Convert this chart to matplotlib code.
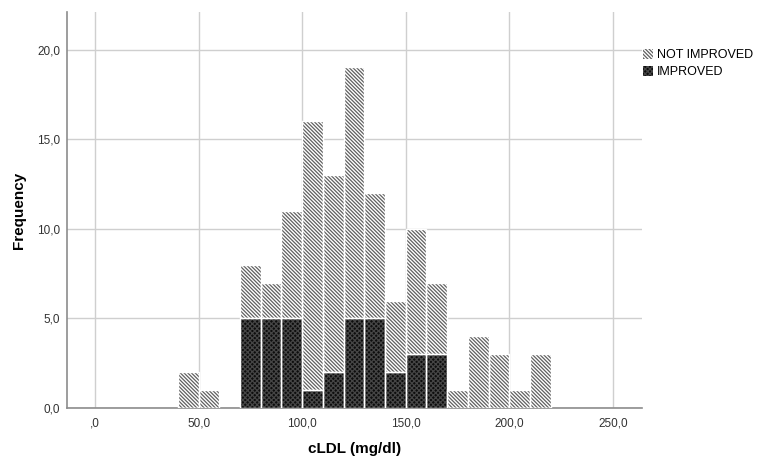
import numpy as np
import matplotlib.pyplot as plt
from matplotlib.patches import Patch

plt.rcParams['font.family'] = ['Liberation Sans', 'DejaVu Sans']
plt.rcParams['hatch.linewidth'] = 0.9

# histogram bins (left edges, width 10 mg/dl)
bin_left = [40, 50, 70, 80, 90, 100, 110, 120, 130, 140, 150, 160, 170, 180, 190, 200, 210]
total = [2, 1, 8, 7, 11, 16, 13, 19, 12, 6, 10, 7, 1, 4, 3, 1, 3]
improved = [0, 0, 5, 5, 5, 1, 2, 5, 5, 2, 3, 3, 0, 0, 0, 0, 0]
not_improved = [t - i for t, i in zip(total, improved)]

x_ticks = [0, 50, 100, 150, 200, 250]
x_ticklabels = [',0', '50,0', '100,0', '150,0', '200,0', '250,0']
y_ticks = [0, 5, 10, 15, 20]
y_ticklabels = ['0,0', '5,0', '10,0', '15,0', '20,0']

fig = plt.figure(figsize=(7.61, 4.59), dpi=100)
ax = fig.add_axes([0.088, 0.111, 0.7556, 0.863])

w = 10
imp_col = '#0d0d0d'
imp_hatch = '#454545'
stripe = '\\' * 9
# improved (bottom)
ax.bar(bin_left, improved, width=w, align='edge', color=imp_col,
       hatch='xxxxxxx', edgecolor=imp_hatch, linewidth=0, zorder=3)
ax.bar(bin_left, improved, width=w, align='edge', fill=False,
       edgecolor='white', linewidth=1, zorder=4)
# not improved (stacked)
ax.bar(bin_left, not_improved, bottom=improved, width=w, align='edge', color='white',
       hatch=stripe, edgecolor='#606060', linewidth=0, zorder=3)
ax.bar(bin_left, not_improved, bottom=improved, width=w, align='edge', fill=False,
       edgecolor='white', linewidth=1, zorder=4)

ax.set_xlim(-13.5, 264)
ax.set_ylim(0, 22.1)
ax.set_xticks(x_ticks)
ax.set_xticklabels(x_ticklabels)
ax.set_yticks(y_ticks)
ax.set_yticklabels(y_ticklabels)
ax.tick_params(length=0, labelsize=8.5, colors='#333333', pad=5)
ax.tick_params(axis='x', pad=7)
ax.grid(True, color='#cfcfcf', linewidth=1, zorder=0)
ax.set_axisbelow(True)
for s in ['top', 'right']:
    ax.spines[s].set_visible(False)
for s in ['left', 'bottom']:
    ax.spines[s].set_color('#8c8c8c')
    ax.spines[s].set_linewidth(1.2)

ax.set_xlabel('cLDL (mg/dl)', fontsize=11, fontweight='bold')
ax.set_ylabel('Frequency', fontsize=11, fontweight='bold')
ax.xaxis.set_label_coords(0.5, -0.085)
ax.yaxis.set_label_coords(-0.072, 0.5)

handles = [Patch(facecolor='white', edgecolor='#606060', hatch=stripe, linewidth=0,
                 label='NOT IMPROVED'),
           Patch(facecolor=imp_col, edgecolor=imp_hatch, hatch='xxxxxxx', linewidth=0,
                 label='IMPROVED')]
fig.legend(handles=handles, loc='upper left', bbox_to_anchor=(0.838, 0.905),
           frameon=False, fontsize=9, handlelength=0.85, handleheight=0.85,
           handletextpad=0.3, labelspacing=0.4, borderaxespad=0)

fig.savefig('out.png', dpi=100)
